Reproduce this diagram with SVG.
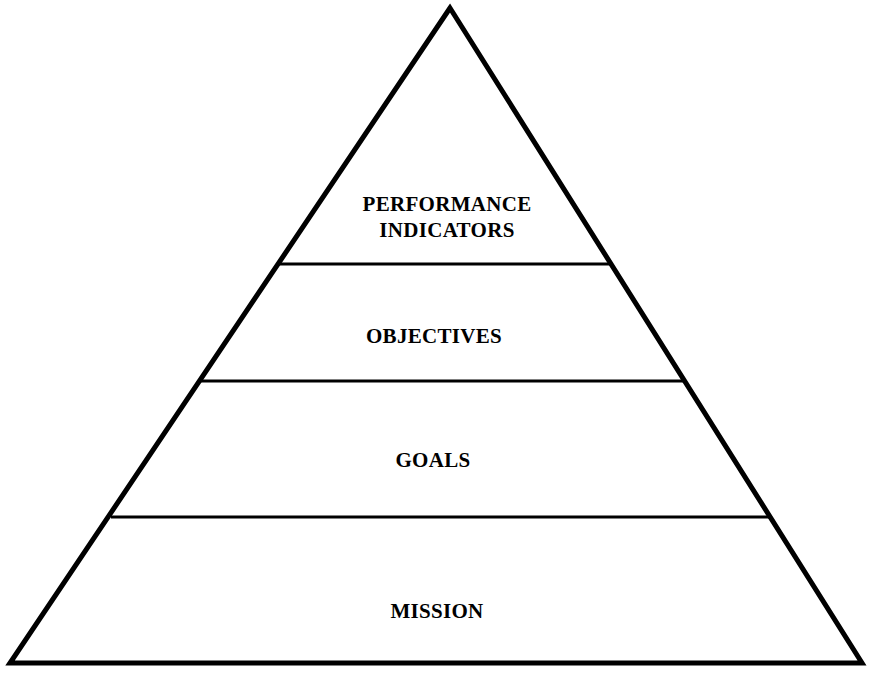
<svg xmlns="http://www.w3.org/2000/svg" width="870" height="674" viewBox="0 0 870 674">
<style>
.lbl{font-family:"Liberation Serif","Times New Roman",serif;font-weight:bold;font-size:21px;letter-spacing:0.3px;fill:#000;text-anchor:middle}
.tier{stroke:#000;stroke-width:3;fill:none}
</style>
<rect width="870" height="674" fill="#fff"/>
<g id="pyramid">
<polygon points="450,8 10,663 862,663" fill="none" stroke="#000" stroke-width="5" stroke-linejoin="miter"/>
</g>
<g id="connectors">
<line class="tier" x1="279" y1="264" x2="610" y2="264"/>
<line class="tier" x1="201" y1="381" x2="684" y2="381"/>
<line class="tier" x1="111" y1="517" x2="770" y2="517"/>
</g>
<g id="performance"><text class="lbl" x="447" y="211">PERFORMANCE</text><text class="lbl" x="447" y="237">INDICATORS</text></g>
<g id="objectives"><text class="lbl" x="434" y="343">OBJECTIVES</text></g>
<g id="goals"><text class="lbl" x="433" y="467">GOALS</text></g>
<g id="mission"><text class="lbl" x="437" y="618">MISSION</text></g>
</svg>
